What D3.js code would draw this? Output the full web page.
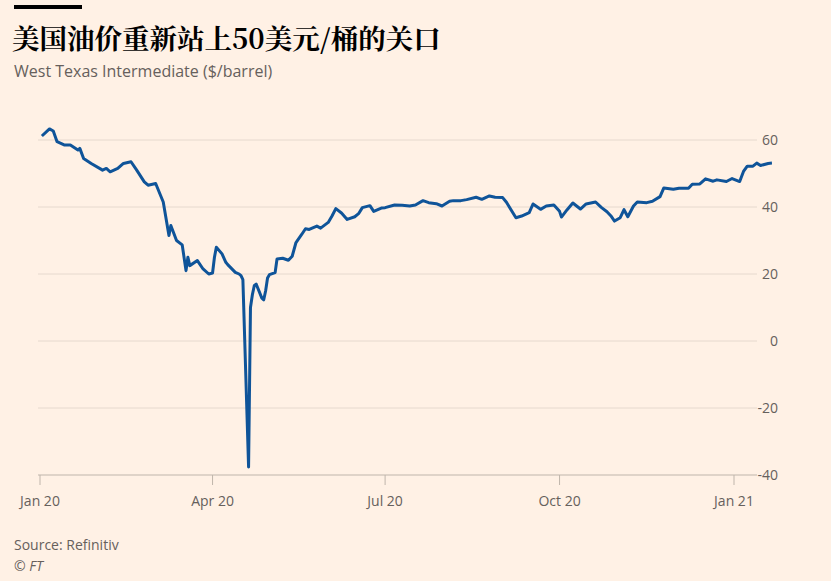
<!DOCTYPE html>
<html>
<head>
<meta charset="UTF-8">
<style>
  body { margin: 0; background: #fff1e5; }
  svg { display: block; }
</style>
</head>
<body>
<svg id="chart" width="831" height="581"></svg>
<script src="https://d3js.org/d3.v7.min.js"></script>
<script>
// WTI daily close (approx)
const dates = ["2020-01-02","2020-01-06","2020-01-08","2020-01-10","2020-01-14","2020-01-17","2020-01-21","2020-01-22","2020-01-24","2020-01-28",
  "2020-02-03","2020-02-05","2020-02-07","2020-02-11","2020-02-14","2020-02-18","2020-02-21","2020-02-25","2020-02-27","2020-03-02",
  "2020-03-06","2020-03-09","2020-03-10","2020-03-11","2020-03-13","2020-03-16","2020-03-18","2020-03-19","2020-03-20","2020-03-24",
  "2020-03-27","2020-03-30","2020-04-01","2020-04-02","2020-04-03","2020-04-06","2020-04-08","2020-04-09","2020-04-13","2020-04-15",
  "2020-04-16","2020-04-17","2020-04-20","2020-04-21","2020-04-22","2020-04-23","2020-04-24","2020-04-27","2020-04-28","2020-04-29",
  "2020-04-30","2020-05-01","2020-05-04","2020-05-05","2020-05-08","2020-05-11","2020-05-13","2020-05-15","2020-05-18","2020-05-20",
  "2020-05-22","2020-05-26","2020-05-28","2020-06-01","2020-06-03","2020-06-05","2020-06-08","2020-06-11","2020-06-15","2020-06-17",
  "2020-06-19","2020-06-23","2020-06-25","2020-06-29","2020-07-01","2020-07-06","2020-07-10","2020-07-14","2020-07-17","2020-07-21",
  "2020-07-24","2020-07-28","2020-07-31","2020-08-04","2020-08-06","2020-08-10","2020-08-13","2020-08-18","2020-08-21","2020-08-25",
  "2020-08-28","2020-09-01","2020-09-03","2020-09-08","2020-09-11","2020-09-15","2020-09-17","2020-09-21","2020-09-24","2020-09-28",
  "2020-10-01","2020-10-02","2020-10-05","2020-10-08","2020-10-12","2020-10-15","2020-10-20","2020-10-23","2020-10-26","2020-10-28",
  "2020-10-30","2020-11-02","2020-11-04","2020-11-06","2020-11-09","2020-11-11","2020-11-16","2020-11-19","2020-11-23","2020-11-25",
  "2020-11-30","2020-12-03","2020-12-08","2020-12-10","2020-12-14","2020-12-17","2020-12-21","2020-12-23","2020-12-28","2020-12-31",
  "2021-01-04","2021-01-06","2021-01-08","2021-01-11","2021-01-13","2021-01-15","2021-01-19","2021-01-21"];
const prices = [61.2,63.3,62.7,59.5,58.5,58.5,57.0,57.5,54.5,53.0,
  51.0,51.5,50.5,51.5,53.0,53.5,51.0,47.5,46.5,47.0,
  41.5,31.5,34.5,33.0,30.0,28.7,21.0,25.0,22.5,24.0,
  21.5,20.0,20.3,25.0,28.0,26.0,23.5,22.8,20.5,20.0,
  19.5,18.3,-37.6,10.0,13.8,16.5,17.0,12.8,12.3,15.0,
  18.8,19.8,20.4,24.5,24.7,24.1,25.3,29.4,31.8,33.5,
  33.3,34.3,33.7,35.4,37.3,39.5,38.2,36.3,37.1,38.0,
  39.8,40.4,38.7,39.7,39.8,40.6,40.5,40.3,40.6,41.9,
  41.3,41.0,40.3,41.7,41.9,41.9,42.2,42.9,42.3,43.3,
  42.9,42.8,41.4,36.8,37.3,38.3,40.9,39.3,40.3,40.6,
  38.7,37.0,39.2,41.2,39.4,40.9,41.5,39.9,38.6,37.4,
  35.8,36.8,39.2,37.1,40.3,41.5,41.3,41.7,43.1,45.7,
  45.3,45.6,45.6,46.8,46.9,48.4,47.7,48.1,47.6,48.5,
  47.6,50.6,52.2,52.2,53.1,52.4,53.0,53.1];
const yTicks = [-40, -20, 0, 20, 40, 60];
const xTickDates = ["2020-01-01","2020-04-01","2020-07-01","2020-10-01","2021-01-01"];
const xTickLabels = ["Jan 20","Apr 20","Jul 20","Oct 20","Jan 21"];

const parse = d3.timeParse("%Y-%m-%d");
const data = dates.map((d, i) => ({ date: parse(d), value: prices[i] }));

const svg = d3.select("#chart");
const left = 40, gridRight = 757;
const font = "'Open Sans', sans-serif";

const x = d3.scaleTime()
  .domain([parse("2020-01-01"), parse("2021-01-01")])
  .range([left, 734]);
const y = d3.scaleLinear().domain([-40, 60]).range([475, 140]);

// header
svg.append("rect").attr("x", 14).attr("y", 5).attr("width", 68).attr("height", 4).attr("fill", "#000");
svg.append("text").attr("x", 12).attr("y", 49)
  .attr("font-family", "'Noto Serif CJK SC','Noto Sans CJK SC',serif")
  .attr("font-weight", "bold").attr("font-size", 27.5).attr("fill", "#000")
  .text("美国油价重新站上50美元/桶的关口");
svg.append("text").attr("x", 14).attr("y", 77)
  .attr("font-family", font).attr("font-size", 16).attr("fill", "#66605c")
  .text("West Texas Intermediate ($/barrel)");

// gridlines + right axis labels
yTicks.forEach(t => {
  svg.append("line").attr("x1", left - 2).attr("x2", gridRight)
    .attr("y1", y(t)).attr("y2", y(t))
    .attr("stroke", t === -40 ? "#bfb5ab" : "#e6d9ce").attr("stroke-width", 1);
  svg.append("text").attr("x", 778).attr("y", y(t) + 5).attr("text-anchor", "end")
    .attr("font-family", font).attr("font-size", 14).attr("fill", "#66605c")
    .text(t < 0 ? "-" + Math.abs(t) : t);
});

// x ticks
xTickDates.forEach((d, i) => {
  const xp = x(parse(d));
  svg.append("line").attr("x1", xp).attr("x2", xp).attr("y1", 475).attr("y2", 485)
    .attr("stroke", "#bfb5ab");
  svg.append("text").attr("x", xp).attr("y", 506).attr("text-anchor", "middle")
    .attr("font-family", font).attr("font-size", 14).attr("fill", "#66605c")
    .text(xTickLabels[i]);
});

// line
const line = d3.line().x(d => x(d.date)).y(d => y(d.value));
svg.append("path").datum(data).attr("d", line)
  .attr("fill", "none").attr("stroke", "#0f5499").attr("stroke-width", 3)
  .attr("stroke-linejoin", "round");

// footer
svg.append("text").attr("x", 14).attr("y", 550)
  .attr("font-family", font).attr("font-size", 14).attr("fill", "#66605c")
  .text("Source: Refinitiv");
svg.append("text").attr("x", 14).attr("y", 571)
  .attr("font-family", font).attr("font-size", 14).attr("font-style", "italic").attr("fill", "#66605c")
  .text("© FT");
</script>
</body>
</html>
